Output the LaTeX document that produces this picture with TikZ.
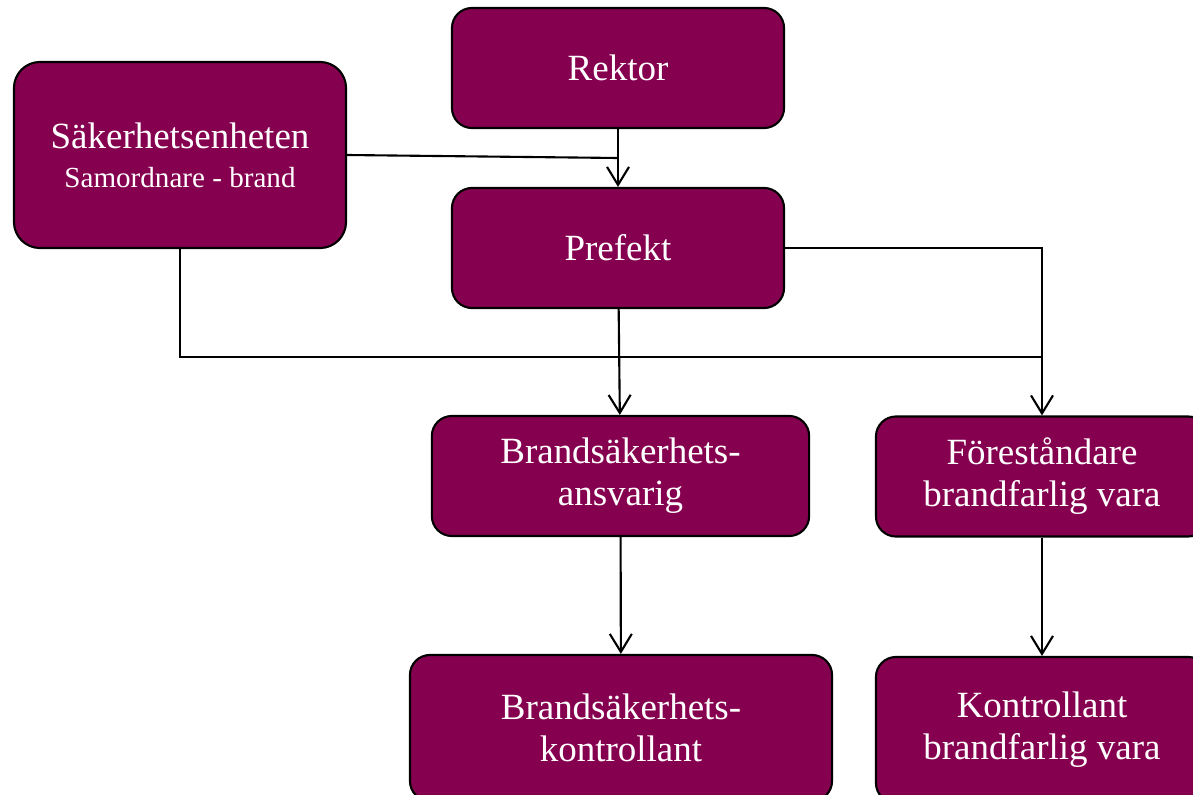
\documentclass[tikz,border=0pt]{standalone}
\usepackage{fontspec}
\setmainfont{Liberation Serif}
\usetikzlibrary{arrows.meta}
\definecolor{boxred}{RGB}{134,0,80}

\begin{document}
\begin{tikzpicture}[x=0.025cm,y=-0.025cm,
    unit/.style={draw=black,line width=1.5pt,fill=boxred,rounded corners=0.5cm,
      text=white,align=center,font=\fontsize{26.3}{30}\selectfont,
      minimum width=8.3cm,minimum height=3cm},
    link/.style={line width=1.5pt},
    >={Straight Barb[length=4.5mm,width=5.5mm]}]
  \clip (0,0) rectangle (1193,795);

  % Boxes
  \node[unit] (rektor) at (618,68) {Rektor};
  \node[unit,minimum height=4.65cm,rounded corners=0.65cm] (sakerhet) at (180,155)
    {Säkerhetsenheten\\[-2pt]{\fontsize{20.7}{24}\selectfont Samordnare - brand}};
  \node[unit] (prefekt) at (618,248) {Prefekt};
  \node[unit,minimum width=9.43cm] (ansvarig) at (620.5,476) {Brandsäkerhets-\\ansvarig};
  \node[unit] (forestandare) at (1042,476.5) {Föreståndare\\brandfarlig vara};
  \node[unit,minimum width=10.55cm,minimum height=3.65cm] (kontrollant) at (621,728)
    {Brandsäkerhets-\\kontrollant};
  \node[unit,minimum height=3.65cm] (kontrollvara) at (1042,730)
    {Kontrollant\\brandfarlig vara};

  % Helper points
  \coordinate (join) at (618,158);
  \coordinate (busend) at (1042,357);

  % Connectors
  \draw[link,->] (rektor) -- (prefekt);
  \draw[link] (sakerhet.east) -- (join);
  \draw[link] (sakerhet.south) |- (busend);
  \draw[link,->] (prefekt) -- (ansvarig);
  \draw[link,->] (prefekt.east) -| (forestandare.north);
  \draw[link,->] (ansvarig) -- (kontrollant);
  \draw[link,->] (forestandare) -- (kontrollvara);
\end{tikzpicture}
\end{document}
